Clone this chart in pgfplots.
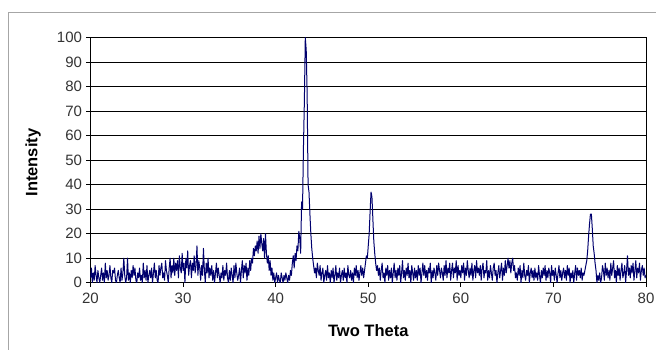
\documentclass[border=0pt]{standalone}
\usepackage{pgfplots}
\pgfplotsset{compat=1.18}
\usepackage{pgfplotstable}
\usepackage{fontspec}
\setmainfont{Liberation Sans}
\definecolor{navy}{RGB}{0,0,110}
\pgfplotstableread{
x y
20.0 2
20.1 6
20.2 0
20.3 4
20.4 1
20.5 7
20.6 3
20.7 0
20.8 5
20.9 2
21.0 0
21.1 3
21.2 6
21.3 1
21.4 4
21.5 0
21.6 8
21.7 2
21.8 5
21.9 1
22.0 3
22.1 7
22.2 2
22.3 0
22.4 5
22.5 4
22.6 6
22.7 1
22.8 0
22.9 3
23.0 5
23.1 2
23.2 0
23.3 6
23.4 1
23.5 4
23.6 10
23.7 3
23.8 0
23.9 2
24.0 10
24.1 1
24.2 4
24.3 0
24.4 5
24.5 2
24.6 7
24.7 3
24.8 6
24.9 1
25.0 0
25.1 4
25.2 2
25.3 6
25.4 1
25.5 3
25.6 0
25.7 8
25.8 2
25.9 5
26.0 1
26.1 7
26.2 0
26.3 3
26.4 5
26.5 2
26.6 6
26.7 0
26.8 4
26.9 8
27.0 2
27.1 5
27.2 1
27.3 0
27.4 7
27.5 3
27.6 6
27.7 8
27.8 2
27.9 4
28.0 1
28.1 9
28.2 5
28.3 3
28.4 0
28.5 6
28.6 10
28.7 2
28.8 7
28.9 4
29.0 10
29.1 3
29.2 8
29.3 5
29.4 9
29.5 2
29.6 11
29.7 6
29.8 4
29.9 12
30.0 5
30.1 8
30.2 0
30.3 10
30.4 6
30.5 13
30.6 3
30.7 7
30.8 9
30.9 2
31.0 8
31.1 5
31.2 11
31.3 4
31.4 7
31.5 15
31.6 3
31.7 9
31.8 6
31.9 1
32.0 7
32.1 3
32.2 14
32.3 5
32.4 0
32.5 8
32.6 4
32.7 10
32.8 2
32.9 6
33.0 3
33.1 7
33.2 1
33.3 5
33.4 0
33.5 4
33.6 8
33.7 2
33.8 6
33.9 3
34.0 0
34.1 4
34.2 2
34.3 7
34.4 1
34.5 5
34.6 3
34.7 8
34.8 2
34.9 0
35.0 5
35.1 1
35.2 6
35.3 3
35.4 0
35.5 7
35.6 2
35.7 8
35.8 4
35.9 1
36.0 3
36.1 6
36.2 0
36.3 5
36.4 9
36.5 2
36.6 7
36.7 4
36.8 8
36.9 1
37.0 6
37.1 3
37.2 9
37.3 5
37.4 10
37.5 8
37.6 14
37.7 11
37.8 15
37.9 13
38.0 17
38.1 12
38.2 19
38.3 14
38.4 20
38.5 16
38.6 13
38.7 18
38.8 10
38.9 20
39.0 12
39.1 8
39.2 11
39.3 5
39.4 9
39.5 3
39.6 6
39.7 1
39.8 4
39.9 0
40.0 2
40.1 4
40.2 0
40.3 3
40.4 1
40.5 0
40.6 4
40.7 2
40.8 0
40.9 3
41.0 1
41.1 4
41.2 2
41.3 0
41.4 3
41.5 1
41.6 5
41.7 3
41.8 8
41.9 11
42.0 6
42.1 12
42.2 9
42.3 15
42.4 13
42.5 21
42.6 18
42.7 12
42.8 33
42.9 30
43.0 55
43.1 74
43.2 100
43.3 95
43.4 77
43.5 40
43.6 37
43.7 28
43.8 20
43.9 14
44.0 10
44.1 7
44.2 4
44.3 6
44.4 2
44.5 8
44.6 5
44.7 3
44.8 7
44.9 1
45.0 4
45.1 6
45.2 0
45.3 3
45.4 5
45.5 1
45.6 7
45.7 2
45.8 4
45.9 0
46.0 5
46.1 2
46.2 6
46.3 0
46.4 3
46.5 7
46.6 1
46.7 4
46.8 2
46.9 6
47.0 0
47.1 3
47.2 5
47.3 1
47.4 6
47.5 2
47.6 4
47.7 0
47.8 7
47.9 3
48.0 2
48.1 5
48.2 1
48.3 4
48.4 0
48.5 6
48.6 3
48.7 7
48.8 2
48.9 5
49.0 1
49.1 4
49.2 7
49.3 3
49.4 6
49.5 2
49.6 5
49.7 8
49.8 11
49.9 10
50.0 15
50.1 20
50.2 29
50.3 37
50.4 35
50.5 26
50.6 17
50.7 12
50.8 8
50.9 5
51.0 7
51.1 3
51.2 6
51.3 1
51.4 5
51.5 8
51.6 2
51.7 4
51.8 0
51.9 6
52.0 3
52.1 7
52.2 1
52.3 5
52.4 2
52.5 6
52.6 0
52.7 4
52.8 8
52.9 2
53.0 5
53.1 1
53.2 6
53.3 3
53.4 7
53.5 0
53.6 4
53.7 9
53.8 2
53.9 5
54.0 1
54.1 6
54.2 3
54.3 8
54.4 2
54.5 5
54.6 0
54.7 7
54.8 4
54.9 1
55.0 6
55.1 2
55.2 5
55.3 1
55.4 7
55.5 3
55.6 6
55.7 0
55.8 4
55.9 8
56.0 3
56.1 7
56.2 2
56.3 5
56.4 1
56.5 6
56.6 4
56.7 8
56.8 0
56.9 5
57.0 2
57.1 6
57.2 4
57.3 1
57.4 7
57.5 3
57.6 8
57.7 5
57.8 2
57.9 6
58.0 4
58.1 1
58.2 7
58.3 3
58.4 9
58.5 2
58.6 6
58.7 4
58.8 8
58.9 1
59.0 5
59.1 8
59.2 2
59.3 6
59.4 4
59.5 9
59.6 1
59.7 7
59.8 3
59.9 5
60.0 2
60.1 7
60.2 4
60.3 8
60.4 1
60.5 6
60.6 3
60.7 9
60.8 5
60.9 2
61.0 6
61.1 3
61.2 8
61.3 1
61.4 5
61.5 7
61.6 2
61.7 9
61.8 4
61.9 6
62.0 3
62.1 7
62.2 1
62.3 6
62.4 8
62.5 2
62.6 5
62.7 4
62.8 9
62.9 1
63.0 5
63.1 2
63.2 7
63.3 4
63.4 1
63.5 6
63.6 8
63.7 3
63.8 5
63.9 0
64.0 4
64.1 7
64.2 2
64.3 5
64.4 8
64.5 1
64.6 6
64.7 3
64.8 9
64.9 4
65.0 7
65.1 10
65.2 6
65.3 9
65.4 4
65.5 8
65.6 10
65.7 5
65.8 7
65.9 2
66.0 4
66.1 1
66.2 6
66.3 3
66.4 7
66.5 0
66.6 5
66.7 2
66.8 8
66.9 3
67.0 1
67.1 5
67.2 3
67.3 7
67.4 0
67.5 4
67.6 6
67.7 2
67.8 5
67.9 1
68.0 6
68.1 2
68.2 4
68.3 1
68.4 7
68.5 3
68.6 0
68.7 5
68.8 2
68.9 6
69.0 3
69.1 7
69.2 1
69.3 5
69.4 2
69.5 6
69.6 4
69.7 0
69.8 7
69.9 3
70.0 5
70.1 1
70.2 6
70.3 3
70.4 0
70.5 4
70.6 7
70.7 2
70.8 5
70.9 1
71.0 4
71.1 6
71.2 2
71.3 5
71.4 1
71.5 7
71.6 3
71.7 6
71.8 0
71.9 4
72.0 2
72.1 5
72.2 0
72.3 4
72.4 7
72.5 1
72.6 6
72.7 3
72.8 5
72.9 2
73.0 6
73.1 1
73.2 4
73.3 3
73.4 5
73.5 7
73.6 9
73.7 13
73.8 19
73.9 24
74.0 28
74.1 28
74.2 22
74.3 15
74.4 12
74.5 8
74.6 5
74.7 0
74.8 3
74.9 1
75.0 4
75.1 0
75.2 2
75.3 7
75.4 5
75.5 1
75.6 8
75.7 3
75.8 6
75.9 2
76.0 5
76.1 1
76.2 8
76.3 3
76.4 6
76.5 9
76.6 2
76.7 5
76.8 0
76.9 7
77.0 3
77.1 6
77.2 1
77.3 5
77.4 8
77.5 2
77.6 4
77.7 7
77.8 0
77.9 5
78.0 11
78.1 3
78.2 6
78.3 2
78.4 7
78.5 4
78.6 8
78.7 1
78.8 5
78.9 9
79.0 2
79.1 6
79.2 4
79.3 8
79.4 1
79.5 5
79.6 7
79.7 3
79.8 6
79.9 2
80.0 3
}\xrd
\begin{document}
\begin{tikzpicture}
\path[use as bounding box] (0pt,0pt) rectangle (656pt,349pt);
\draw[gray!70, line width=1pt] (8.5pt,-2pt) -- (8.5pt,336pt) -- (660pt,336pt);
\begin{axis}[
  at={(90.5pt,66.3pt)}, anchor=south west,
  width=555.5pt, height=245pt, scale only axis,
  xmin=20, xmax=80, ymin=0, ymax=100,
  xtick={20,30,...,80}, ytick={0,10,...,100},
  tick align=outside, xtick pos=bottom, ytick pos=left,
  major tick length=4pt,
  ymajorgrids, grid style={black, line width=0.7pt},
  axis line style={black, line width=0.8pt},
  tick style={black, line width=0.7pt},
  ticklabel style={font=\fontsize{15}{17}\selectfont, text=black!80},
  xticklabel style={anchor=center, yshift=-12pt},
  yticklabel style={anchor=east, xshift=-1pt},
  /pgf/number format/assume math mode=true,
  xlabel={Two Theta}, ylabel={Intensity},
  label style={font=\fontsize{16.5}{18}\selectfont\bfseries},
  xlabel style={at={(axis description cs:0.5,-0.1965)}, anchor=center},
  ylabel style={at={(axis description cs:-0.1035,0.49)}, anchor=center},
]
\addplot[navy, line width=1pt, line join=round] table[x=x, y=y] {\xrd};
\end{axis}
\end{tikzpicture}
\end{document}
